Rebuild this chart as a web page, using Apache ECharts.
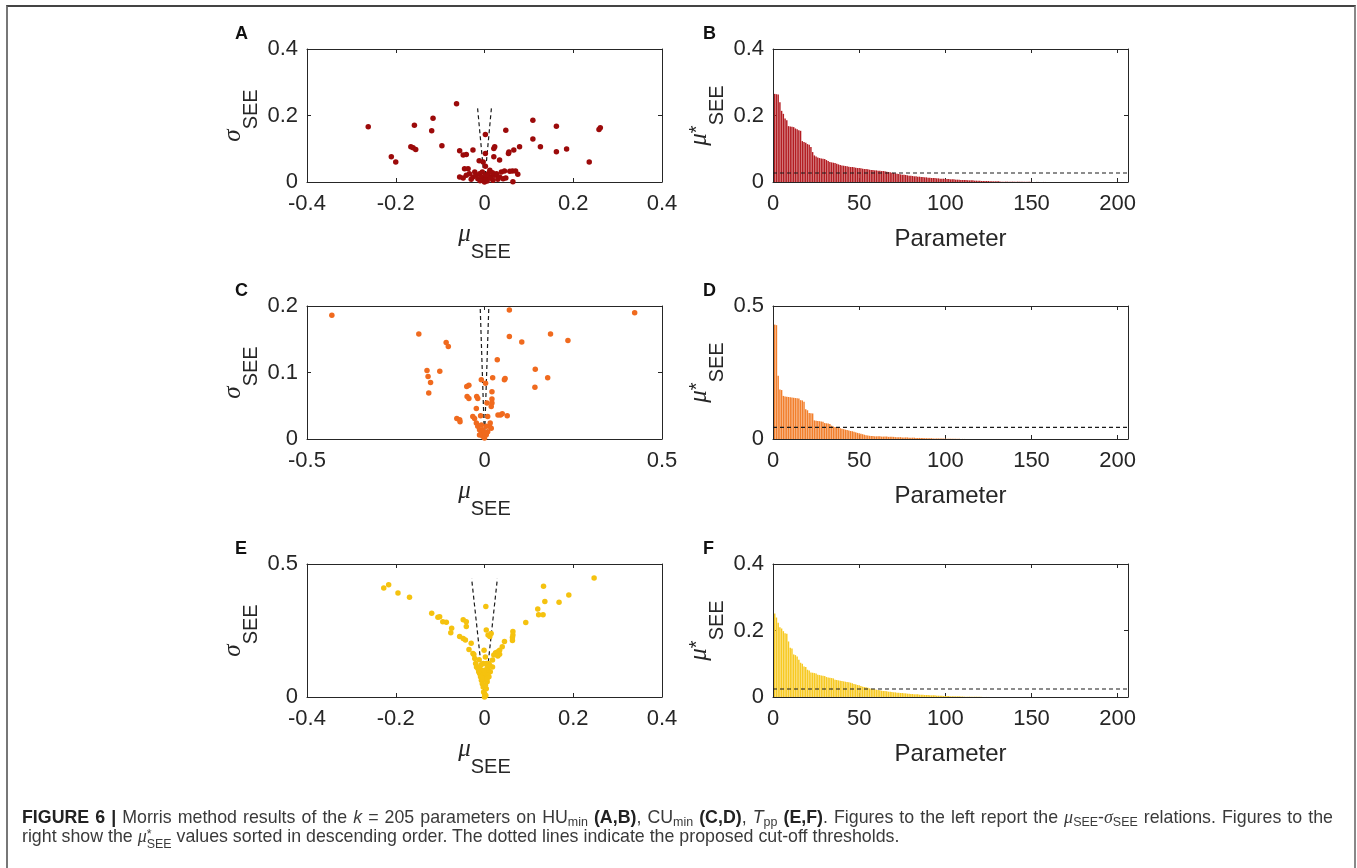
<!DOCTYPE html>
<html>
<head>
<meta charset="utf-8">
<title>Morris method results</title>
<style type="text/css">
	html, body { margin: 0; padding: 0; background: #fff; }
	#chart { position: absolute; left: 0; top: 0; width: 1357px; height: 868px; }
	#frame {
		position: absolute; left: 6px; top: 5px; width: 1346px; height: 900px;
		border-top: 2px solid #444; border-left: 2px solid #777; border-right: 2px solid #888;
		pointer-events: none;
	}
	#caption {
		position: absolute; left: 22px; top: 808px; width: 1311px;
		font-family: "Liberation Sans", Arial, sans-serif; font-size: 17.8px; line-height: 19px;
		color: #3a3a3a;
	}
	#caption .first { text-align: justify; text-align-last: justify; white-space: nowrap; }
	#caption b { color: #222; }
	#caption .g { font-family: "Liberation Serif", "Times New Roman", serif; font-style: italic; font-size: 18px; }
	#caption sub { font-size: 0.7em; vertical-align: -0.25em; line-height: 0; }
	#caption .stack { display: inline-block; font-size: 0.7em; line-height: 0.8em; vertical-align: -0.5em; }
	#caption .stack span { display: block; }
</style>
</head>
<body>
<div id="chart"></div>
<div id="frame"></div>
<div id="caption">
	<div class="first"><b>FIGURE 6 |</b> Morris method results of the <i>k</i> = 205 parameters on HU<sub>min</sub> <b>(A,B)</b>, CU<sub>min</sub> <b>(C,D)</b>, <i>T</i><sub>pp</sub> <b>(E,F)</b>. Figures to the left report the <span class="g">μ</span><sub>SEE</sub>-<span class="g">σ</span><sub>SEE</sub> relations. Figures to the</div>
	<div>right show the <span class="g">μ</span><span class="stack"><span>*</span><span>SEE</span></span> values sorted in descending order. The dotted lines indicate the proposed cut-off thresholds.</div>
</div>

<script src="https://cdn.jsdelivr.net/npm/echarts@6/dist/echarts.min.js"></script>
<script type="text/javascript">
	// ---- panel A : HUmin, mu vs sigma ----
	const A_MU = [
		-0.262, -0.210, -0.200, -0.166, -0.161, -0.155, -0.158, -0.116, -0.119, -0.096,
		-0.063, -0.056, -0.048, -0.041, -0.026, -0.012, -0.003, 0.002, 0.002, 0.002,
		0.021, 0.023, 0.021, 0.034, 0.048, 0.054, 0.055, 0.066, 0.079, 0.109,
		0.109, 0.126, 0.162, 0.162, 0.185, 0.236, 0.258, 0.261,
		-0.056, -0.045, -0.037, -0.041, -0.034, -0.026, -0.022, -0.019, -0.015, -0.011,
		-0.007, -0.003, 0.000, 0.004, 0.008, 0.012, 0.015, 0.019, 0.023, 0.027,
		0.034, 0.038, 0.042, 0.045, 0.057, 0.063, 0.070, 0.075, 0.064,
		-0.030, -0.010, 0.006, 0.012, 0.030, 0.048, -0.048, 0.018, -0.005, 0.003
	];
	const A_SIGMA = [
		0.166, 0.076, 0.060, 0.106, 0.103, 0.098, 0.171, 0.192, 0.154, 0.109,
		0.235, 0.094, 0.081, 0.083, 0.096, 0.064, 0.060, 0.143, 0.086, 0.047,
		0.101, 0.106, 0.076, 0.066, 0.156, 0.086, 0.090, 0.096, 0.106, 0.186,
		0.129, 0.106, 0.168, 0.091, 0.099, 0.060, 0.158, 0.163,
		0.015, 0.040, 0.040, 0.020, 0.025, 0.015, 0.030, 0.020, 0.010, 0.025,
		0.015, 0.005, 0.000, 0.010, 0.025, 0.035, 0.015, 0.005, 0.020, 0.025,
		0.015, 0.030, 0.010, 0.033, 0.032, 0.033, 0.033, 0.023, 0.001,
		0.008, 0.004, 0.003, 0.012, 0.008, 0.012, 0.012, 0.028, 0.030, 0.020
	];
	const A_CUTOFF_MU = [-0.016, 0.016];
	const A_CUTOFF_SIGMA = [0.228, 0.228];

	// ---- panel C : CUmin, mu vs sigma ----
	const C_MU = [
		-0.430, -0.185, -0.108, -0.102, -0.162, -0.159, -0.152, -0.157, -0.126, -0.050,
		-0.044, -0.049, -0.044, -0.023, -0.009, 0.003, 0.023, 0.021, 0.021, 0.021,
		0.019, 0.007, 0.036, 0.070, 0.070, 0.105, 0.186, 0.235, 0.423, 0.143,
		0.142, 0.178, 0.056, 0.058, 0.038, 0.045, 0.050, 0.064, -0.078, -0.070,
		-0.069, -0.033, -0.028, -0.011, 0.009, -0.023, -0.019, -0.014, -0.009, -0.005,
		0.000, 0.005, 0.009, 0.014, 0.016, 0.019, -0.005, -0.009, 0.005, 0.000,
		-0.014, -0.022, -0.019
	];
	const C_SIGMA = [
		0.186, 0.158, 0.145, 0.139, 0.103, 0.094, 0.085, 0.069, 0.102, 0.079,
		0.081, 0.064, 0.061, 0.046, 0.089, 0.084, 0.092, 0.071, 0.060, 0.054,
		0.049, 0.054, 0.119, 0.194, 0.154, 0.146, 0.158, 0.148, 0.190, 0.105,
		0.078, 0.092, 0.089, 0.091, 0.036, 0.036, 0.038, 0.035, 0.031, 0.029,
		0.026, 0.034, 0.031, 0.035, 0.034, 0.024, 0.019, 0.014, 0.009, 0.004,
		0.0015, 0.0065, 0.011, 0.019, 0.024, 0.016, 0.014, 0.021, 0.019, 0.009,
		0.006, 0.064, 0.061
	];
	const C_CUTOFF_MU = [-0.012, 0.012];
	const C_CUTOFF_SIGMA = [0.196, 0.196];

	// ---- panel E : Tpp, mu vs sigma ----
	const E_MU = [
		-0.227, -0.216, -0.195, -0.169, -0.119, -0.105, -0.101, -0.094, -0.086, -0.074,
		-0.076, -0.048, -0.041, -0.041, -0.056, -0.048, -0.043, -0.035, -0.030, -0.026,
		-0.022, -0.020, -0.018, -0.015, -0.011, -0.007, -0.003, 0.003, 0.004, 0.008,
		0.012, 0.015, -0.001, -0.003, 0.004, 0.010, 0.018, 0.021, 0.025, 0.030,
		0.034, 0.040, 0.045, 0.034, 0.030, 0.018, 0.013, 0.010, 0.006, 0.004,
		0.000, 0.064, 0.064, 0.063, 0.063, 0.093, 0.120, 0.122, 0.132, 0.136,
		0.133, 0.168, 0.190, 0.247, -0.011, -0.007, -0.003, 0.000, 0.004, 0.008,
		-0.009, -0.005, 0.002, 0.004, 0.008, -0.002, 0.003, 0.000,
		-0.013, -0.008, 0.006, 0.012, -0.004, 0.006, -0.002, 0.002, -0.012, -0.024
	];
	const E_SIGMA = [
		0.410, 0.422, 0.391, 0.375, 0.315, 0.300, 0.302, 0.283, 0.281, 0.258,
		0.242, 0.290, 0.283, 0.265, 0.227, 0.220, 0.214, 0.179, 0.202, 0.164,
		0.145, 0.126, 0.113, 0.107, 0.088, 0.063, 0.038, 0.340, 0.252, 0.233,
		0.227, 0.239, 0.176, 0.126, 0.126, 0.126, 0.139, 0.158, 0.166, 0.170,
		0.176, 0.189, 0.209, 0.161, 0.154, 0.113, 0.095, 0.076, 0.057, 0.031,
		0.013, 0.246, 0.233, 0.224, 0.212, 0.280, 0.331, 0.309, 0.309, 0.359,
		0.416, 0.356, 0.383, 0.447, 0.113, 0.101, 0.088, 0.076, 0.088, 0.101,
		0.076, 0.050, 0.044, 0.063, 0.082, 0.019, 0.006, 0.000,
		0.095, 0.120, 0.110, 0.118, 0.070, 0.070, 0.100, 0.150, 0.140, 0.160
	];
	const E_CUTOFF_MU = [-0.029, 0.029];
	const E_CUTOFF_SIGMA = [0.445, 0.445];

	// ---- panel B : HUmin, sorted mu* (parameters 1..205) ----
	const B_MUSTAR = [
		0.265, 0.264, 0.263, 0.240, 0.214, 0.205, 0.191, 0.186, 0.168, 0.167,
		0.166, 0.165, 0.161, 0.159, 0.156, 0.154, 0.123, 0.120, 0.118, 0.114,
		0.112, 0.105, 0.090, 0.080, 0.077, 0.074, 0.072, 0.071, 0.070, 0.069,
		0.066, 0.063, 0.060, 0.059, 0.058, 0.057, 0.055, 0.053, 0.051, 0.050,
		0.049, 0.048, 0.047, 0.046, 0.045, 0.045, 0.044, 0.043, 0.042, 0.042,
		0.041, 0.040, 0.039, 0.039, 0.038, 0.037, 0.036, 0.036, 0.035, 0.035,
		0.034, 0.034, 0.033, 0.033, 0.032, 0.031, 0.030, 0.029, 0.028, 0.027,
		0.026, 0.025, 0.024, 0.023, 0.022, 0.022, 0.021, 0.020, 0.019, 0.019,
		0.018, 0.017, 0.017, 0.016, 0.016, 0.015, 0.015, 0.014, 0.014, 0.013,
		0.013, 0.012, 0.012, 0.012, 0.011, 0.011, 0.010, 0.010, 0.010, 0.009,
		0.009, 0.009, 0.008, 0.008, 0.008, 0.007, 0.007, 0.007, 0.006, 0.006,
		0.006, 0.006, 0.005, 0.005, 0.005, 0.005, 0.004, 0.004, 0.004, 0.004,
		0.003, 0.003, 0.003, 0.003, 0.003, 0.002, 0.002, 0.002, 0.002, 0.002,
		0.002, 0.001, 0.001, 0.001, 0.001, 0.001, 0.001, 0.001, 0.001, 0.001,
		0.001, 0.001, 0.0008, 0.0008, 0.0007, 0.0006, 0.0005, 0.0005, 0.0004, 0.0004,
		0.0003, 0.0003, 0.0003, 0.0002, 0.0002, 0.0002, 0.0002, 0.0001, 0.0001, 0.0001,
		0, 0, 0, 0, 0, 0, 0, 0, 0, 0,
		0, 0, 0, 0, 0, 0, 0, 0, 0, 0,
		0, 0, 0, 0, 0, 0, 0, 0, 0, 0,
		0, 0, 0, 0, 0, 0, 0, 0, 0, 0,
		0, 0, 0, 0, 0
	];
	const B_THRESHOLD = 0.027;

	// ---- panel D : CUmin, sorted mu* ----
	const D_MUSTAR = [
		0.430, 0.428, 0.238, 0.186, 0.184, 0.162, 0.160, 0.159, 0.158, 0.157,
		0.156, 0.155, 0.154, 0.153, 0.152, 0.146, 0.145, 0.140, 0.112, 0.108,
		0.098, 0.097, 0.096, 0.070, 0.069, 0.068, 0.067, 0.066, 0.065, 0.060,
		0.059, 0.058, 0.056, 0.050, 0.047, 0.045, 0.043, 0.041, 0.040, 0.039,
		0.037, 0.035, 0.034, 0.032, 0.030, 0.029, 0.027, 0.025, 0.023, 0.022,
		0.020, 0.018, 0.016, 0.014, 0.013, 0.012, 0.011, 0.011, 0.010, 0.010,
		0.010, 0.010, 0.009, 0.009, 0.009, 0.009, 0.008, 0.008, 0.008, 0.008,
		0.007, 0.007, 0.007, 0.007, 0.006, 0.006, 0.006, 0.006, 0.005, 0.005,
		0.005, 0.005, 0.004, 0.004, 0.004, 0.004, 0.004, 0.003, 0.003, 0.003,
		0.003, 0.003, 0.002, 0.002, 0.002, 0.002, 0.002, 0.002, 0.0015, 0.0015,
		0.001, 0.001, 0.001, 0.001, 0.001, 0.0008, 0.0006, 0.0005, 0.0004, 0.0003,
		0.0002, 0.0002, 0.0001, 0.0001, 0.0001, 0, 0, 0, 0, 0,
		0, 0, 0, 0, 0, 0, 0, 0, 0, 0,
		0, 0, 0, 0, 0, 0, 0, 0, 0, 0,
		0, 0, 0, 0, 0, 0, 0, 0, 0, 0,
		0, 0, 0, 0, 0, 0, 0, 0, 0, 0,
		0, 0, 0, 0, 0, 0, 0, 0, 0, 0,
		0, 0, 0, 0, 0, 0, 0, 0, 0, 0,
		0, 0, 0, 0, 0, 0, 0, 0, 0, 0,
		0, 0, 0, 0, 0, 0, 0, 0, 0, 0,
		0, 0, 0, 0, 0
	];
	const D_THRESHOLD = 0.044;

	// ---- panel F : Tpp, sorted mu* ----
	const F_MUSTAR = [
		0.251, 0.239, 0.223, 0.210, 0.206, 0.198, 0.192, 0.190, 0.167, 0.148,
		0.146, 0.128, 0.126, 0.122, 0.112, 0.103, 0.100, 0.092, 0.090, 0.082,
		0.080, 0.074, 0.073, 0.072, 0.071, 0.067, 0.066, 0.065, 0.064, 0.063,
		0.060, 0.059, 0.058, 0.057, 0.056, 0.052, 0.051, 0.050, 0.049, 0.048,
		0.047, 0.046, 0.045, 0.044, 0.043, 0.041, 0.039, 0.038, 0.036, 0.035,
		0.033, 0.031, 0.030, 0.029, 0.028, 0.026, 0.025, 0.024, 0.023, 0.022,
		0.021, 0.020, 0.019, 0.018, 0.018, 0.017, 0.016, 0.016, 0.015, 0.014,
		0.014, 0.013, 0.013, 0.012, 0.012, 0.011, 0.011, 0.010, 0.010, 0.009,
		0.009, 0.008, 0.008, 0.008, 0.007, 0.007, 0.007, 0.006, 0.006, 0.006,
		0.005, 0.005, 0.005, 0.005, 0.004, 0.004, 0.004, 0.004, 0.003, 0.003,
		0.003, 0.003, 0.002, 0.002, 0.002, 0.002, 0.002, 0.002, 0.0015, 0.0015,
		0.001, 0.001, 0.001, 0.001, 0.001, 0.001, 0.0008, 0.0008, 0.0006, 0.0005,
		0.0004, 0.0003, 0.0002, 0.0002, 0.0001, 0, 0, 0, 0, 0,
		0, 0, 0, 0, 0, 0, 0, 0, 0, 0,
		0, 0, 0, 0, 0, 0, 0, 0, 0, 0,
		0, 0, 0, 0, 0, 0, 0, 0, 0, 0,
		0, 0, 0, 0, 0, 0, 0, 0, 0, 0,
		0, 0, 0, 0, 0, 0, 0, 0, 0, 0,
		0, 0, 0, 0, 0, 0, 0, 0, 0, 0,
		0, 0, 0, 0, 0, 0, 0, 0, 0, 0,
		0, 0, 0, 0, 0
	];
	const F_THRESHOLD = 0.024;

	const PARAM_MAX = 206;

	const FONT = '"Liberation Sans", Arial, sans-serif';
	const SERIF = '"Liberation Serif", "Times New Roman", serif';
	const INK = '#262626';

	const NAME_RICH = {
		m: { fontFamily: SERIF, fontStyle: 'italic', fontSize: 25, verticalAlign: 'top', color: INK },
		a: { fontFamily: FONT, fontSize: 20, verticalAlign: 'top', color: INK },
		s: { fontFamily: FONT, fontSize: 20, verticalAlign: 'bottom', color: INK }
	};

	// layout of the six panels
	const PANELS = [
		{ letter: 'A', left: 307, top: 49, x: [-0.4, 0.4, 0.2], y: [0, 0.4, 0.2], xName: '{m|μ}{s|SEE}', yName: '{m|σ}{s|SEE}',
		  kind: 'scatter', mu: A_MU, sigma: A_SIGMA, cutMu: A_CUTOFF_MU, cutSigma: A_CUTOFF_SIGMA, color: '#9c0a0a' },
		{ letter: 'B', left: 773, top: 49, x: [0, PARAM_MAX, 50], y: [0, 0.4, 0.2], xName: 'Parameter', yName: '{m|μ}{a|*}{s|SEE}',
		  kind: 'bar', values: B_MUSTAR, threshold: B_THRESHOLD, color: '#b31d22' },
		{ letter: 'C', left: 307, top: 306, x: [-0.5, 0.5, 0.5], y: [0, 0.2, 0.1], xName: '{m|μ}{s|SEE}', yName: '{m|σ}{s|SEE}',
		  kind: 'scatter', mu: C_MU, sigma: C_SIGMA, cutMu: C_CUTOFF_MU, cutSigma: C_CUTOFF_SIGMA, color: '#f06a1e' },
		{ letter: 'D', left: 773, top: 306, x: [0, PARAM_MAX, 50], y: [0, 0.5, 0.5], xName: 'Parameter', yName: '{m|μ}{a|*}{s|SEE}',
		  kind: 'bar', values: D_MUSTAR, threshold: D_THRESHOLD, color: '#f27f2c' },
		{ letter: 'E', left: 307, top: 564, x: [-0.4, 0.4, 0.2], y: [0, 0.5, 0.5], xName: '{m|μ}{s|SEE}', yName: '{m|σ}{s|SEE}',
		  kind: 'scatter', mu: E_MU, sigma: E_SIGMA, cutMu: E_CUTOFF_MU, cutSigma: E_CUTOFF_SIGMA, color: '#f5c20f' },
		{ letter: 'F', left: 773, top: 564, x: [0, PARAM_MAX, 50], y: [0, 0.4, 0.2], xName: 'Parameter', yName: '{m|μ}{a|*}{s|SEE}',
		  kind: 'bar', values: F_MUSTAR, threshold: F_THRESHOLD, color: '#f7c922' }
	];
	const PLOT_W = 355, PLOT_H = 133;

	function makeAxes(gridIndex, range, isX, name) {
		const [min, max, interval] = range;
		const rich = name.indexOf('{') >= 0;
		const line = { show: true, onZero: false, lineStyle: { color: INK, width: 1 } };
		const tick = { show: true, inside: true, length: 4, lineStyle: { color: INK, width: 1 } };
		const main = {
			gridIndex: gridIndex, type: 'value', min: min, max: max, interval: interval,
			position: isX ? 'bottom' : 'left',
			axisLine: line, axisTick: tick, splitLine: { show: false },
			axisLabel: { fontFamily: FONT, fontSize: 22, color: INK, margin: isX ? 11 : 9,
				showMaxLabel: Math.abs(max / interval - Math.round(max / interval)) < 1e-9 },
			name: name, nameLocation: 'middle', nameRotate: isX ? 0 : 90,
			nameGap: isX ? (rich ? 40 : 45) : 46,
			nameTextStyle: rich
				? { fontFamily: FONT, fontSize: 20, color: INK, lineHeight: 40, rich: NAME_RICH }
				: { fontFamily: FONT, fontSize: 24, color: INK }
		};
		const mirror = {
			gridIndex: gridIndex, type: 'value', min: min, max: max, interval: interval,
			position: isX ? 'top' : 'right',
			axisLine: line, axisTick: tick, splitLine: { show: false }, axisLabel: { show: false }
		};
		return [main, mirror];
	}

	const grids = [], xAxes = [], yAxes = [], series = [], titles = [];

	PANELS.forEach((p, i) => {
		grids.push({ left: p.left, top: p.top, width: PLOT_W, height: PLOT_H, show: false });
		xAxes.push(...makeAxes(i, p.x, true, p.xName));
		yAxes.push(...makeAxes(i, p.y, false, p.yName));
		titles.push({
			text: p.letter, left: p.left - 72 + (p.kind === 'bar' ? 2 : 0), top: p.top - 24, padding: 0,
			textStyle: { fontFamily: FONT, fontWeight: 'bold', fontSize: 18, color: '#111' }
		});
		const ax = { xAxisIndex: 2 * i, yAxisIndex: 2 * i };
		const dash = { color: '#1a1a1a', width: 1.2, type: [4, 3] };
		if (p.kind === 'scatter') {
			p.cutMu.forEach((m, k) => {
				series.push(Object.assign({
					type: 'line', data: [[0, 0], [m, p.cutSigma[k]]], symbol: 'none',
					lineStyle: dash, silent: true, z: 1
				}, ax));
			});
			series.push(Object.assign({
				type: 'scatter', data: p.mu.map((m, k) => [m, p.sigma[k]]),
				symbolSize: 5.5, itemStyle: { color: p.color, opacity: 1 }, z: 2
			}, ax));
		} else {
			series.push(Object.assign({
				type: 'bar', data: p.values.map((v, k) => [k + 1, v]),
				barWidth: 1.45, itemStyle: { color: p.color }, z: 1
			}, ax));
			series.push(Object.assign({
				type: 'line', data: [[0, p.threshold], [PARAM_MAX, p.threshold]], symbol: 'none',
				lineStyle: dash, silent: true, z: 3
			}, ax));
		}
	});

	const myChart = echarts.init(document.getElementById('chart'), null, { renderer: 'canvas' });
	myChart.setOption({
		animation: false,
		backgroundColor: '#fff',
		title: titles,
		grid: grids,
		xAxis: xAxes,
		yAxis: yAxes,
		series: series
	});
</script>
</body>
</html>
